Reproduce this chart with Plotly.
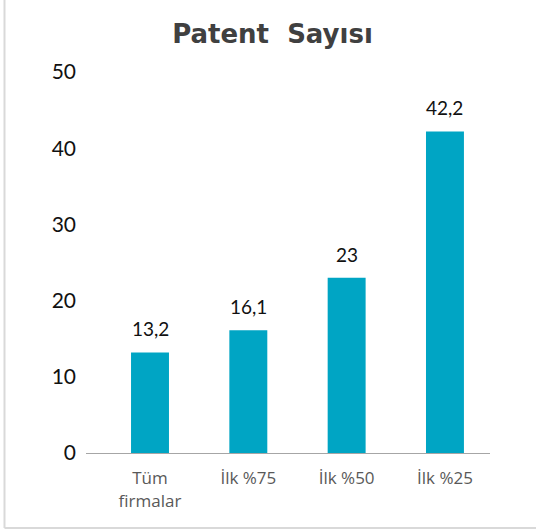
import plotly.graph_objects as go

categories = ["Tüm<br>firmalar", "İlk %75", "İlk %50", "İlk %25"]
values = [13.2, 16.1, 23, 42.2]
value_labels = ["13,2", "16,1", "23", "42,2"]
y_ticks = [0, 10, 20, 30, 40, 50]

xs = list(range(len(categories)))

fig = go.Figure(go.Bar(
    x=xs,
    y=values,
    width=0.386,
    marker=dict(color="#00A5C4", line=dict(width=0)),
    hoverinfo="skip",
))

for xi, v, lab in zip(xs, values, value_labels):
    fig.add_annotation(x=xi, y=v, text=lab, showarrow=False, yanchor="bottom", yshift=10,
                       font=dict(family="Lato", size=19, color="#111111"))

L, R, T, B = 86, 46, 72, 79
W, H = 536, 532
pw, ph = W - L - R, H - T - B

fig.update_layout(
    width=W, height=H,
    margin=dict(l=L, r=R, t=T, b=B, pad=0),
    paper_bgcolor="white", plot_bgcolor="white",
    showlegend=False,
    title=dict(text="<b>Patent  Sayısı</b>", x=(272.5) / W, xanchor="center", y=1 - 34 / H, yanchor="middle",
               font=dict(family="DejaVu Sans", size=26, color="#404040")),
    xaxis=dict(
        tickmode="array", tickvals=xs, ticktext=categories,
        range=[-0.651, 3.458], showline=True, linecolor="#a6a6a6", linewidth=1,
        ticks="", showgrid=False, zeroline=False, ticklabelstandoff=10,
        tickfont=dict(family="Open Sans", size=17, color="#595959"),
    ),
    yaxis=dict(
        range=[0, 50], tickmode="array", tickvals=y_ticks,
        showgrid=False, zeroline=False, showline=False, ticks="",
        ticklabelstandoff=9,
        tickfont=dict(family="Lato", size=21, color="#111111"),
    ),
    shapes=[
        dict(type="line", xref="paper", yref="paper",
             x0=(4.5 - L) / pw, x1=(4.5 - L) / pw, y0=(H - B - 528) / ph, y1=(H - B + 10) / ph * 2,
             line=dict(color="#d9d9d9", width=2)),
        dict(type="line", xref="paper", yref="paper",
             x0=(4.5 - L) / pw, x1=(W + 10 - L) / pw, y0=(H - B - 528) / ph, y1=(H - B - 528) / ph,
             line=dict(color="#d9d9d9", width=2)),
    ],
)

fig.write_html("out.html", config={"displayModeBar": False},
               post_script="document.body.style.margin='0';document.body.style.overflow='hidden';")
